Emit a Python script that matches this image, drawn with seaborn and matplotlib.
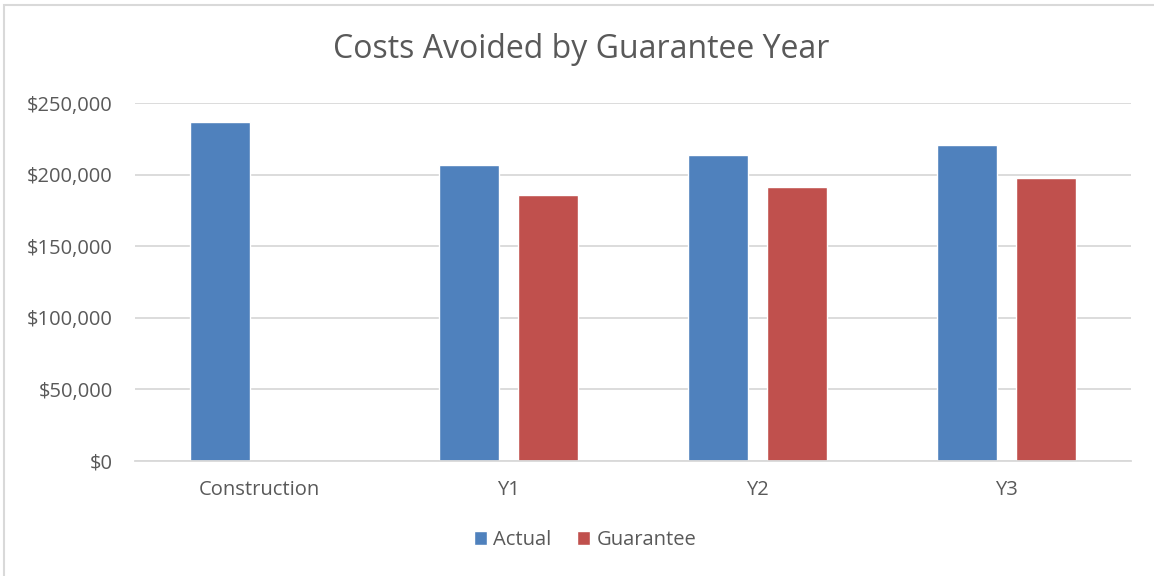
import matplotlib
matplotlib.use("Agg")
import matplotlib.pyplot as plt
from matplotlib.patches import Rectangle
from matplotlib.ticker import FuncFormatter
import numpy as np
import pandas as pd
import seaborn as sns

# Costs avoided per period
categories = ["Construction", "Y1", "Y2", "Y3"]
actual = [237000, 207000, 214000, 220500]
guarantee = [np.nan, 185500, 191500, 197500]
series_names = ["Actual", "Guarantee"]
y_ticks = [0, 50000, 100000, 150000, 200000, 250000]

df = pd.DataFrame({
    "period": categories * 2,
    "series": [series_names[0]] * len(categories) + [series_names[1]] * len(categories),
    "value": actual + guarantee,
})

sns.set_theme(style="white")
plt.rcParams["font.family"] = ["Open Sans", "DejaVu Sans"]

text_color = "#595959"
grid_color = "#D9D9D9"
palette = {"Actual": "#4F81BD", "Guarantee": "#C0504D"}

fig = plt.figure(figsize=(11.54, 5.76), dpi=100)
W, H = 1154, 576
ax = fig.add_axes([135 / W, 115 / H, (1131 - 135) / W, (461 - 103) / H])

sns.barplot(data=df, x="period", y="value", hue="series", order=categories,
            hue_order=series_names, palette=palette, width=0.628, gap=0.232,
            saturation=1, ax=ax, legend=True)

ax.set_ylim(0, 250000)
ax.set_xlim(-0.5, len(categories) - 0.5)
ax.set_yticks(y_ticks)
ax.yaxis.set_major_formatter(FuncFormatter(lambda v, p: f"${v:,.0f}"))
ax.yaxis.grid(True, color=grid_color, linewidth=1.3)
ax.set_axisbelow(True)
for s in ["top", "right", "left"]:
    ax.spines[s].set_visible(False)
ax.spines["bottom"].set_color(grid_color)
ax.spines["bottom"].set_linewidth(1.3)
ax.tick_params(axis="both", length=0, labelsize=14.5, labelcolor=text_color)
ax.tick_params(axis="y", pad=16)
ax.tick_params(axis="x", pad=13.5)
ax.set_xlabel("")
ax.set_ylabel("")

fig.text(581 / W, 1 - 49 / H, "Costs Avoided by Guarantee Year", ha="center",
         va="center", fontsize=23, color=text_color)

leg = ax.legend(loc="center", bbox_to_anchor=(585 / W, 1 - 540 / H),
                bbox_transform=fig.transFigure, ncol=2, frameon=False,
                fontsize=14.5, handlelength=0.65, handleheight=0.65,
                handletextpad=0.3, columnspacing=1.3)
for t in leg.get_texts():
    t.set_color(text_color)

# chart area border
fig.patches.append(Rectangle((3.5 / W, -0.1), 1.2, 1 - 4.5 / H + 0.1,
                             transform=fig.transFigure, fill=False,
                             edgecolor=grid_color, linewidth=1.5, zorder=0))

fig.savefig("out.png", dpi=100, facecolor="white")
